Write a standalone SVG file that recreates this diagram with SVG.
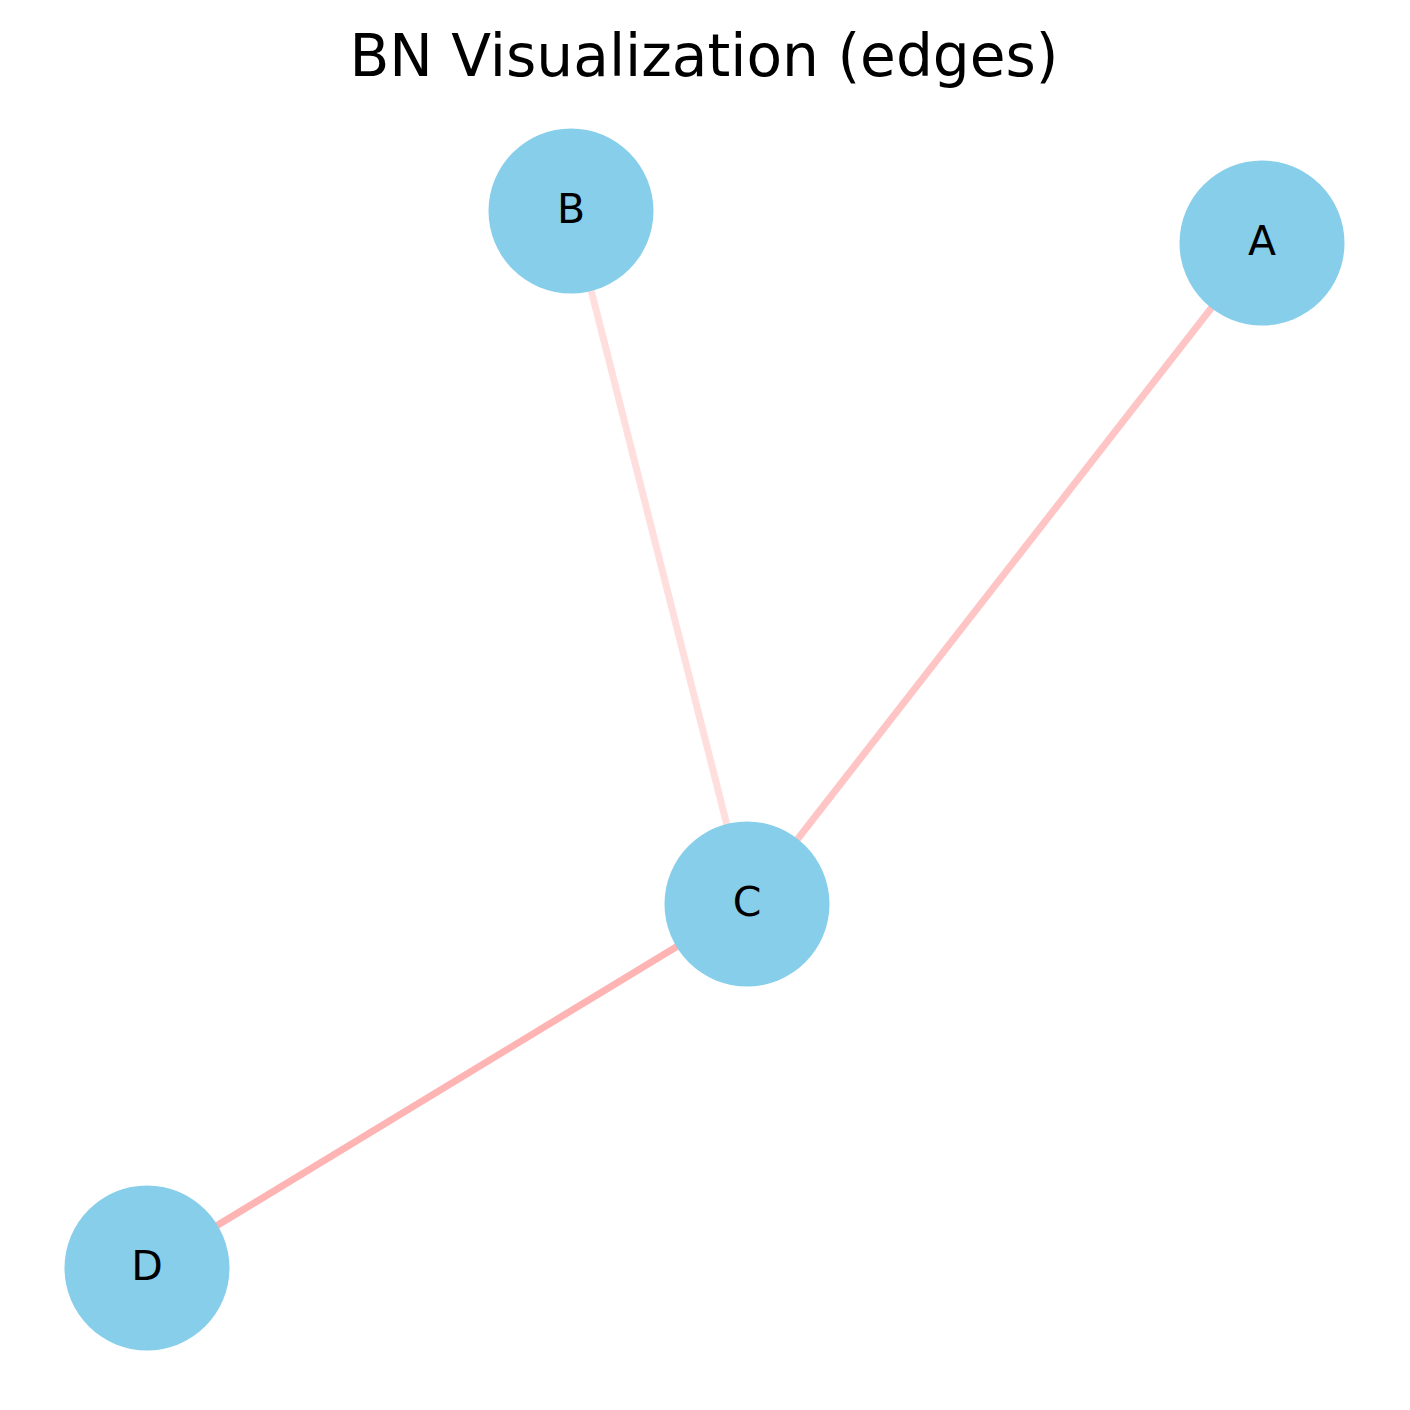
<svg xmlns="http://www.w3.org/2000/svg" width="1410" height="1410" viewBox="0 0 1410 1410">
<style>
.node{fill:#87CEEB}
.lbl{font-family:"DejaVu Sans",sans-serif;font-size:41px;fill:#000;text-anchor:middle}
.edge{stroke-width:7;fill:none}
.title{font-family:"DejaVu Sans",sans-serif;font-size:58.2px;fill:#000;text-anchor:middle}
</style>
<rect width="1410" height="1410" fill="#fff"/>
<text class="title" x="704" y="76">BN Visualization (edges)</text>
<g id="edges">
<line class="edge" x1="571" y1="211" x2="747" y2="904" stroke="#FFDEDE"/>
<line class="edge" x1="1262" y1="243" x2="747" y2="904" stroke="#FFC4C4"/>
<line class="edge" x1="747" y1="904" x2="147" y2="1268" stroke="#FFB4B4"/>
</g>
<g id="node-B"><circle class="node" cx="571" cy="211" r="82.5"/><text class="lbl" x="571" y="223">B</text></g>
<g id="node-A"><circle class="node" cx="1262" cy="243" r="82.5"/><text class="lbl" x="1262" y="255">A</text></g>
<g id="node-C"><circle class="node" cx="747" cy="904" r="82.5"/><text class="lbl" x="747" y="916">C</text></g>
<g id="node-D"><circle class="node" cx="147" cy="1268" r="82.5"/><text class="lbl" x="147" y="1280">D</text></g>
</svg>
